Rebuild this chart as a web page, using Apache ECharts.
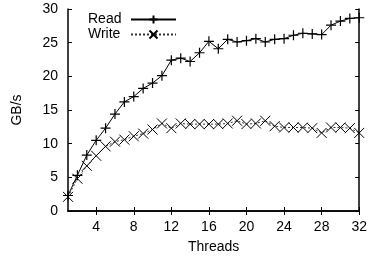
<!DOCTYPE html>
<html>
<head>
<meta charset="UTF-8">
<title></title>
<style>
	*{padding:0;margin:0;}
	#chart{width:370px;height:263px;background:#fff;}
</style>
</head>
<body>
<div id="chart"></div>
<script src="https://cdn.jsdelivr.net/npm/echarts@6/dist/echarts.min.js"></script>
<script>
var threads = [];
for (var i = 1; i <= 32; i++) threads.push(i);
var readData = [2.3, 5.3, 8.3, 10.5, 12.3, 14.4, 16.2, 17.0, 18.2, 19.0, 20.1, 22.4, 22.7, 22.2, 23.5, 25.2,
	24.1, 25.5, 25.1, 25.3, 25.6, 25.1, 25.5, 25.6, 26.1, 26.4, 26.3, 26.2, 27.6, 28.2, 28.6, 28.7];
var writeData = [2.1, 4.8, 6.7, 8.2, 9.6, 10.3, 10.6, 11.1, 11.5, 12.1, 13.0, 12.3, 13.0, 12.9, 12.9, 12.9,
	12.9, 13.0, 13.4, 12.9, 13.0, 13.4, 12.6, 12.4, 12.4, 12.4, 12.3, 11.6, 12.4, 12.4, 12.3, 11.6];
var xTicks = [4, 8, 12, 16, 20, 24, 28, 32];

function pairs(vals){
	return threads.map(function(t, i){ return [t, vals[i]]; });
}

var font = {color:"#000", fontSize:14, fontFamily:"Liberation Sans, Arial, sans-serif"};
var frame = {show:true, lineStyle:{color:"#000", width:1.5}};

var chart = echarts.init(document.getElementById("chart"));
chart.setOption({
	animation:false,
	grid:{left:68, right:9, top:9, bottom:52},
	legend:{
		orient:"vertical",
		left:88,
		top:12,
		padding:0,
		align:"right",
		itemGap:0,
		itemWidth:45,
		itemHeight:10,
		formatter:"{a|{name}}",
		textStyle:{
			color:"#000", fontSize:14, fontFamily:"Liberation Sans, Arial, sans-serif", lineHeight:15,
			rich:{a:{width:38, align:"left", color:"#000", fontSize:14, fontFamily:"Liberation Sans, Arial, sans-serif", lineHeight:15}}
		},
		data:["Read", "Write"]
	},
	xAxis:[
		{
			type:"value", min:1, max:32,
			name:"Threads", nameLocation:"middle", nameGap:29, nameTextStyle:font,
			axisLine:frame,
			axisTick:{inside:true, length:4, customValues:xTicks, lineStyle:{color:"#000"}},
			axisLabel:Object.assign({margin:9, customValues:xTicks}, font),
			splitLine:{show:false}
		},
		{
			type:"value", min:1, max:32, position:"top",
			axisLine:frame,
			axisTick:{inside:true, length:4, customValues:xTicks, lineStyle:{color:"#000"}},
			axisLabel:{show:false},
			splitLine:{show:false}
		}
	],
	yAxis:[
		{
			type:"value", min:0, max:30, interval:5,
			name:"GB/s", nameLocation:"middle", nameGap:44, nameTextStyle:font,
			axisLine:frame,
			axisTick:{inside:true, length:4, lineStyle:{color:"#000"}},
			axisLabel:Object.assign({margin:10}, font),
			splitLine:{show:false}
		},
		{
			type:"value", min:0, max:30, interval:5, position:"right",
			axisLine:frame,
			axisTick:{inside:true, length:4, lineStyle:{color:"#000"}},
			axisLabel:{show:false},
			splitLine:{show:false}
		}
	],
	series:[
		{
			name:"Read", type:"line",
			data:pairs(readData),
			symbol:"path://M0,5L10,5M5,0L5,10",
			symbolSize:10,
			lineStyle:{color:"#000", width:1},
			itemStyle:{color:"#000", borderColor:"#000", borderWidth:1.2}
		},
		{
			name:"Write", type:"line",
			data:pairs(writeData),
			symbol:"path://M0,0L10,10M10,0L0,10",
			symbolSize:10,
			lineStyle:{color:"#333", width:1, type:[2,2]},
			itemStyle:{color:"#000", borderColor:"#000", borderWidth:1}
		}
	]
});
</script>
</body>
</html>
